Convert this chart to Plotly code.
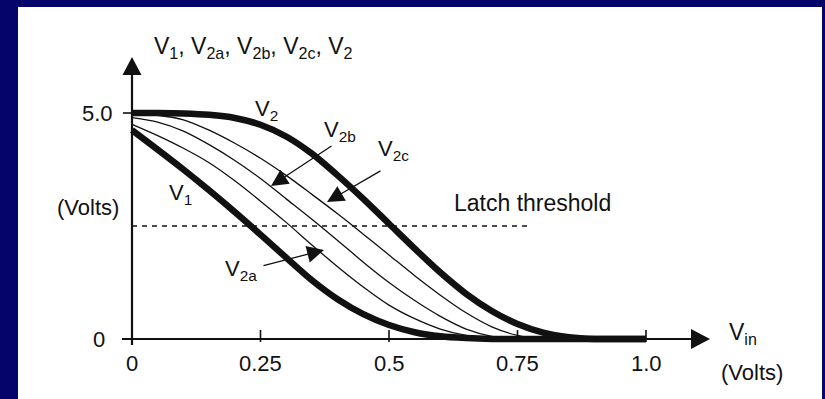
import plotly.graph_objects as go

# ---------------- data ----------------
vin = [0.0, 0.05, 0.10, 0.15, 0.20, 0.25, 0.30, 0.35, 0.40, 0.45, 0.50,
       0.55, 0.60, 0.65, 0.70, 0.75, 0.80, 0.85, 0.90, 0.95, 1.0]
v1 = [4.62, 4.19, 3.75, 3.29, 2.81, 2.31, 1.80, 1.30, 0.88, 0.55, 0.31,
      0.15, 0.06, 0.02, 0.0, 0.0, 0.0, 0.0, 0.0, 0.0, 0.0]
v2a = [4.75, 4.50, 4.22, 3.90, 3.50, 3.05, 2.58, 2.08, 1.60, 1.15, 0.75,
       0.45, 0.22, 0.08, 0.02, 0.0, 0.0, 0.0, 0.0, 0.0, 0.0]
v2b = [4.90, 4.80, 4.60, 4.30, 3.95, 3.55, 3.10, 2.65, 2.18, 1.70, 1.25,
       0.85, 0.50, 0.22, 0.06, 0.0, 0.0, 0.0, 0.0, 0.0, 0.0]
v2c = [5.00, 4.95, 4.85, 4.62, 4.33, 4.00, 3.62, 3.20, 2.77, 2.32, 1.86,
       1.40, 0.97, 0.58, 0.27, 0.08, 0.0, 0.0, 0.0, 0.0, 0.0]
v2 = [5.00, 5.00, 4.99, 4.96, 4.89, 4.74, 4.48, 4.10, 3.62, 3.10, 2.55,
      2.00, 1.47, 1.00, 0.62, 0.33, 0.14, 0.04, 0.0, 0.0, 0.0]

latch_level = 2.5
latch_end = 0.77

x_tick_vals = [0, 0.25, 0.5, 0.75, 1.0]
x_tick_text = ["0", "0.25", "0.5", "0.75", "1.0"]
y_tick_vals = [5.0, 0]
y_tick_text = ["5.0", "0"]

# ---------------- layout geometry (pixels) ----------------
W, H = 825, 399
PL, PR, PT, PB = 18, 822, 7, 399          # white panel = plot area
X0PX, XSCALE = 132, 514                   # px of vin=0, px per volt
Y0PX, YSCALE = 339, 45.2                  # px of V=0, px per volt


def px2x(px):
    return (px - X0PX) / XSCALE


def py2y(py):
    return (Y0PX - py) / YSCALE


FONT = "Liberation Sans, Arial, Helvetica, sans-serif"
BLACK = "#111111"

fig = go.Figure()

# curves
for ys, w in [(v2a, 1.3), (v2b, 1.3), (v2c, 1.3), (v1, 6.5), (v2, 6.5)]:
    fig.add_trace(go.Scatter(x=vin, y=ys, mode="lines",
                             line=dict(color=BLACK, width=w, shape="spline", smoothing=0.8),
                             hoverinfo="skip", showlegend=False))

# latch threshold dotted line
fig.add_trace(go.Scatter(x=[0, latch_end], y=[latch_level, latch_level], mode="lines",
                         line=dict(color=BLACK, width=1.3, dash="5px,5px"),
                         hoverinfo="skip", showlegend=False))

shapes = []
# axes lines
shapes.append(dict(type="line", xref="x", yref="y", x0=px2x(122), x1=px2x(695), y0=0, y1=0,
                   line=dict(color=BLACK, width=2.2)))
shapes.append(dict(type="line", xref="x", yref="y", x0=0, x1=0, y0=py2y(345), y1=py2y(72),
                   line=dict(color=BLACK, width=2.2)))
# arrowheads (pixel-sized paths)
shapes.append(dict(type="path", xref="x", yref="y", xsizemode="pixel", ysizemode="pixel",
                   xanchor=px2x(710), yanchor=0,
                   path="M0,0 L-19,10 L-19,-10 Z", fillcolor=BLACK, line=dict(width=0)))
shapes.append(dict(type="path", xref="x", yref="y", xsizemode="pixel", ysizemode="pixel",
                   xanchor=0, yanchor=py2y(57),
                   path="M0,0 L-9.5,-18 L9.5,-18 Z", fillcolor=BLACK, line=dict(width=0)))
# x ticks
for t in x_tick_vals[1:]:
    shapes.append(dict(type="line", xref="x", yref="y", x0=t, x1=t,
                       y0=py2y(342), y1=py2y(330), line=dict(color=BLACK, width=1.6)))
# y tick at 5.0
shapes.append(dict(type="line", xref="x", yref="y", x0=px2x(123), x1=0,
                   y0=y_tick_vals[0], y1=y_tick_vals[0], line=dict(color=BLACK, width=1.6)))

ann = []


def text(x, y, s, size=21, xanchor="center"):
    ann.append(dict(x=x, y=y, xref="x", yref="y", text=s, showarrow=False,
                    xanchor=xanchor, yanchor="middle",
                    font=dict(family=FONT, size=size, color=BLACK)))


# tick labels
for t, s in zip(x_tick_vals, x_tick_text):
    text(t, py2y(363), s, size=22)
text(px2x(115), y_tick_vals[0], y_tick_text[0], size=22, xanchor="right")
text(px2x(107), y_tick_vals[1], y_tick_text[1], size=22, xanchor="right")

# axis titles
text(px2x(152), py2y(47), "V<sub>1</sub>, V<sub>2a</sub>, V<sub>2b</sub>, V<sub>2c</sub>, V<sub>2</sub>",
     size=23, xanchor="left")
text(px2x(121), py2y(207), "(Volts)", size=22, xanchor="right")
text(px2x(743), py2y(333), "V<sub>in</sub>", size=23)
text(px2x(752), py2y(372), "(Volts)", size=22)
text(px2x(452), py2y(203), "Latch threshold", size=23, xanchor="left")

# curve labels
text(px2x(266), py2y(110), "V<sub>2</sub>", size=22)
text(px2x(180), py2y(194), "V<sub>1</sub>", size=22)
text(px2x(340), py2y(131), "V<sub>2b</sub>", size=22)
text(px2x(393), py2y(150), "V<sub>2c</sub>", size=22)
text(px2x(241), py2y(270), "V<sub>2a</sub>", size=22)

# pointer arrows
for (tx, ty), (hx, hy) in [((262, 266), (324, 250)),
                           ((333, 145), (271, 186)),
                           ((382, 170), (327, 202))]:
    ann.append(dict(x=px2x(hx), y=py2y(hy), ax=px2x(tx), ay=py2y(ty),
                    xref="x", yref="y", axref="x", ayref="y", text="",
                    showarrow=True, arrowhead=2, arrowsize=2.6, arrowwidth=1.3,
                    arrowcolor=BLACK, standoff=0, startstandoff=0))

fig.update_layout(
    width=W, height=H, autosize=False,
    margin=dict(l=PL, r=W - PR, t=PT, b=H - PB, pad=0),
    paper_bgcolor="#04046a", plot_bgcolor="white",
    xaxis=dict(range=[px2x(PL), px2x(PR)], visible=False, fixedrange=True),
    yaxis=dict(range=[py2y(PB), py2y(PT)], visible=False, fixedrange=True),
    shapes=shapes, annotations=ann, showlegend=False,
)

fig.write_html("out.html", config={"displayModeBar": False},
               post_script="document.body.style.margin='0';document.body.style.overflow='hidden';")
